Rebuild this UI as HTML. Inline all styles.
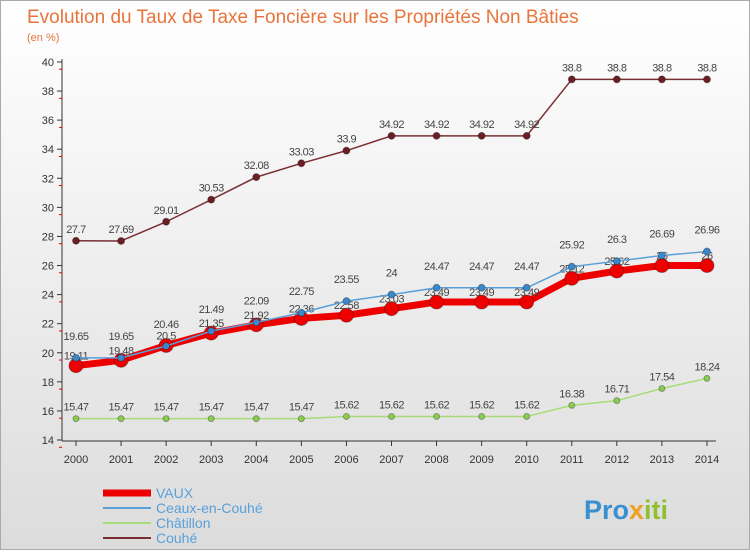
<!DOCTYPE html>
<html><head><meta charset="utf-8"><style>
body{margin:0;width:750px;height:550px;overflow:hidden;font-family:"Liberation Sans",sans-serif}
#c{position:absolute;left:0;top:0;width:748px;height:548px;border:1px solid #aaa;background:linear-gradient(#fff,#dcdcdc)}
</style></head><body>
<div id="c">
<svg id="s" width="750" height="550" xmlns="http://www.w3.org/2000/svg">
<text x="26" y="22" font-size="19" fill="#e8743b">Evolution du Taux de Taxe Foncière sur les Propriétés Non Bâties</text>
<text x="26" y="40" font-size="11" fill="#e8743b">(en %)</text>
<g id="axes"></g><g id="series"></g><g id="legend"></g>
<text x="583" y="518" font-size="27" font-weight="bold" fill="#3a8fd0">Pro<tspan fill="#f0a020">x</tspan><tspan fill="#90c030">iti</tspan></text>
</svg></div>
<script>
const years=[2000,2001,2002,2003,2004,2005,2006,2007,2008,2009,2010,2011,2012,2013,2014];
const yTicks=[14,16,18,20,22,24,26,28,30,32,34,36,38,40];
const vaux=[19.11,19.48,20.5,21.35,21.92,22.36,22.58,23.03,23.49,23.49,23.49,25.12,25.62,26,26];
const ceaux=[19.65,19.65,20.46,21.49,22.09,22.75,23.55,24,24.47,24.47,24.47,25.92,26.3,26.69,26.96];
const chatillon=[15.47,15.47,15.47,15.47,15.47,15.47,15.62,15.62,15.62,15.62,15.62,16.38,16.71,17.54,18.24];
const couhe=[27.7,27.69,29.01,30.53,32.08,33.03,33.9,34.92,34.92,34.92,34.92,38.8,38.8,38.8,38.8];
const NS="http://www.w3.org/2000/svg";
const X=i=>75+i*45.07, Y=v=>439-(v-14)*14.54;
function mk(t,a,p){const e=document.createElementNS(NS,t);for(const k in a)e.setAttribute(k,a[k]);p.appendChild(e);return e;}
const ax=document.getElementById('axes');
let e=mk('line',{x1:61,y1:58,x2:61,y2:440,stroke:'#333'},ax);

e=mk('line',{x1:61,y1:440,x2:715,y2:440,stroke:'#333'},ax);

yTicks.forEach(v=>{const y=Y(v);
mk('line',{x1:56,y1:y,x2:61,y2:y,stroke:'#333'},ax);
mk('line',{x1:58,y1:y+7.27,x2:61,y2:y+7.27,stroke:'#e00'},ax);
const t=mk('text',{x:53,y:y+4,'font-size':11,'text-anchor':'end',fill:'#333'},ax);t.textContent=v;
});
years.forEach((yr,i)=>{const x=X(i);
mk('line',{x1:x,y1:440,x2:x,y2:445,stroke:'#333'},ax);
const t=mk('text',{x:x,y:462,'font-size':11,'text-anchor':'middle',fill:'#333'},ax);t.textContent=yr;
});
const sg=document.getElementById('series');
function series(d,name,color,w,r,dot,dy){
const g=mk('g',{},sg);
const l=mk('polyline',{points:d.map((v,i)=>X(i)+','+Y(v)).join(' '),fill:'none',stroke:color,'stroke-width':w,'stroke-linejoin':'round'},g);

d.forEach((v,i)=>{const c=mk('circle',{cx:X(i),cy:Y(v),r:r,fill:dot,stroke:'rgba(0,0,0,0.3)'},g);

const t=mk('text',{x:X(i),y:Y(v)+dy,'font-size':11,'text-anchor':'middle',fill:'#444','letter-spacing':'-0.5'},g);t.textContent=v;
});}
series(couhe,'couhe','#7a2f35',1.5,3.5,'#6b1f25',-8);
series(chatillon,'chatillon','#a8dc78',1.5,3,'#8ccc50',-8);
series(vaux,'vaux','#ee0000',7,7,'#ee0000',-6);
series(ceaux,'ceaux','#5aa0d8',1.5,3.5,'#3a88cc',-18);
const lg=document.getElementById('legend');
[['VAUX','#ee0000',7],['Ceaux-en-Couhé','#5aa0d8',2],['Châtillon','#a8dc78',2],['Couhé','#7a2f35',2]].forEach((s,i)=>{
const y=492+i*15;const g=mk('g',{},lg);
mk('line',{x1:102,y1:y,x2:150,y2:y,stroke:s[1],'stroke-width':s[2]},g);
const t=mk('text',{x:155,y:y+5,'font-size':14,fill:'#5aa0d8'},g);t.textContent=s[0];});
</script></body></html>
